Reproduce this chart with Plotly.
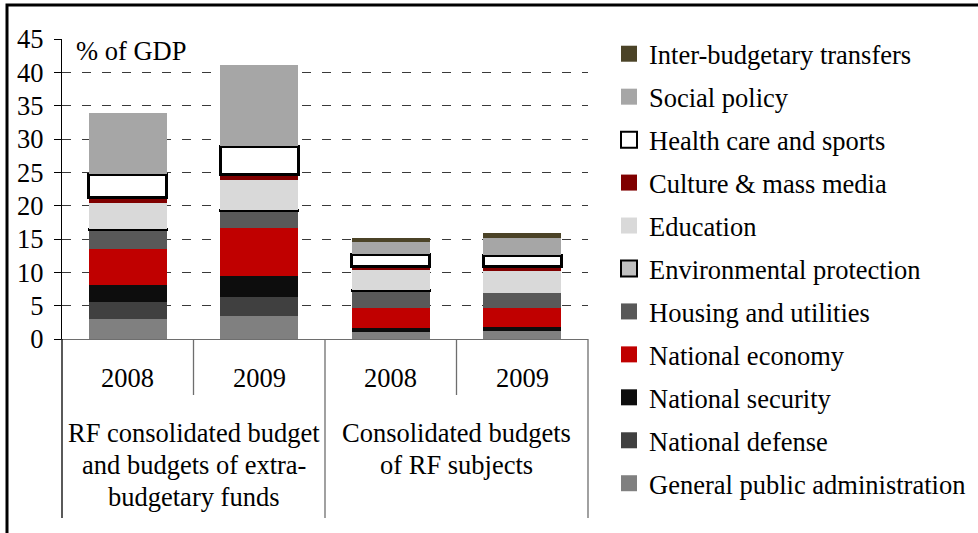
import plotly.graph_objects as go

# ── Data (% of GDP) ───────────────────────────────────────────────────────────
years = ["2008", "2009", "2008", "2009"]
groups = [
    ["RF consolidated budget", "and budgets of extra-", "budgetary funds"],
    ["Consolidated budgets", "of RF subjects"],
]
y_ticks = [0, 5, 10, 15, 20, 25, 30, 35, 40, 45]

general_admin = [3.0, 3.45, 1.05, 1.2]
defense = [2.55, 2.85, 0, 0]
security = [2.55, 3.15, 0.6, 0.6]
economy = [5.4, 7.2, 3.05, 2.9]
housing = [2.8, 2.5, 2.5, 2.2]
environment = [0.15, 0.15, 0.15, None]
education = [4.0, 4.55, 3.0, 3.35]
culture = [0.8, 0.9, 0.5, 0.6]
health = [3.5, 4.15, 1.9, 1.75]
social = [9.15, 12.2, 1.8, 2.55]
transfers = [None, None, 0.6, 0.75]

# bottom to top: (name, values, fill, border colour, border width)
series = [
    ("General public administration", general_admin, "#808080", None, 0),
    ("National defense", defense, "#404040", None, 0),
    ("National security", security, "#0d0d0d", None, 0),
    ("National economy", economy, "#c00000", None, 0),
    ("Housing and utilities", housing, "#595959", None, 0),
    ("Environmental protection", environment, "#c0c0c0", "#000000", 2),
    ("Education", education, "#d9d9d9", None, 0),
    ("Culture & mass media", culture, "#800000", None, 0),
    ("Health care and sports", health, "#ffffff", "#000000", 3),
    ("Social policy", social, "#a6a6a6", None, 0),
    ("Inter-budgetary transfers", transfers, "#4b4327", None, 0),
]

FONT = "Liberation Serif, Times New Roman, serif"
FS = 26.5
x_pos = list(range(len(years)))

fig = go.Figure()
for i, (name, vals, fill, border, bw) in enumerate(series):
    fig.add_trace(go.Bar(
        x=x_pos, y=vals,
        name=name,
        legendgroup=name,
        showlegend=False,
        width=0.59,
        marker=dict(color=fill, line=dict(color=border or fill, width=bw)),
    ))
    # legend-only entry so the swatch can be a bigger square
    fig.add_trace(go.Scatter(
        x=[None], y=[None],
        mode="markers",
        name=name,
        legendgroup=name,
        legendrank=100 - i,
        marker=dict(
            symbol="square", size=16, color=fill,
            line=dict(color=border or fill, width=2 if border else 0),
        ),
    ))

# plot area: x 62..588 px, y 39..339 px
W, H = 978, 533
L, R, T, B = 62, 588, 39, 339
pw, ph = R - L, B - T


def px_x(x):
    return (x - L) / pw


def px_y(y):
    return (B - y) / ph


shapes = []
# category separators below the axis
for xp, bottom in [(62, 518), (193.5, 395), (325, 518), (456.5, 395), (588, 518)]:
    shapes.append(dict(
        type="line", xref="paper", yref="paper",
        x0=px_x(xp), x1=px_x(xp), y0=0, y1=px_y(bottom),
        line=dict(color="#000000" if xp == 62 else "#6e6e6e", width=1.3),
    ))
# outer frame
shapes.append(dict(
    type="rect", xref="paper", yref="paper",
    x0=px_x(7), x1=px_x(992), y0=px_y(5), y1=px_y(548),
    line=dict(color="#000000", width=3),
))

annotations = []
for i, yr in enumerate(years):
    annotations.append(dict(
        x=i, xref="x", y=px_y(378), yref="paper",
        text=yr, showarrow=False, xanchor="center", yanchor="middle",
        font=dict(size=FS, family=FONT, color="#000000"),
    ))
for gx, lines in [(0.5, groups[0]), (2.5, groups[1])]:
    for k, line in enumerate(lines):
        annotations.append(dict(
            x=gx, xref="x", y=px_y(433 + 32 * k), yref="paper",
            text=line, showarrow=False, xanchor="center", yanchor="middle",
            font=dict(size=FS, family=FONT, color="#000000"),
        ))
annotations.append(dict(
    x=px_x(74), xref="paper", y=px_y(51), yref="paper",
    text="% of GDP", showarrow=False, xanchor="left", yanchor="middle",
    font=dict(size=FS, family=FONT, color="#000000"),
))

fig.update_layout(
    width=W, height=H,
    barmode="stack",
    margin=dict(l=L, r=W - R, t=T, b=H - B, autoexpand=False),
    plot_bgcolor="#FFFFFF",
    paper_bgcolor="#FFFFFF",
    font=dict(family=FONT, size=FS, color="#000000"),
    xaxis=dict(
        range=[-0.5, 3.5],
        showticklabels=False, ticks="",
        showgrid=False, zeroline=False,
        showline=True, linecolor="#6e6e6e", linewidth=1.3,
        fixedrange=True,
    ),
    yaxis=dict(
        range=[0, 45],
        tickvals=y_ticks,
        ticks="outside", ticklen=7, tickcolor="#000000",
        ticklabelstandoff=5,
        showline=True, linecolor="#000000", linewidth=1.3,
        showgrid=True, gridcolor="#3a3a3a", gridwidth=1, griddash="9px,11px",
        zeroline=False,
        tickfont=dict(size=FS, family=FONT),
    ),
    legend=dict(
        xref="container", yref="container",
        x=609 / W, y=1 - 30 / H, xanchor="left", yanchor="top",
        traceorder="grouped",
        tracegroupgap=5.5,
        maxheight=520,
        font=dict(size=FS, family=FONT),
        bgcolor="rgba(0,0,0,0)",
        itemwidth=30,
    ),
    shapes=shapes,
    annotations=annotations,
)

# page body has a default 8px margin; drop it so the figure sits at (0, 0)
fig.write_html(
    "out.html",
    config={"displayModeBar": False},
    post_script="document.body.style.margin='0';",
)
